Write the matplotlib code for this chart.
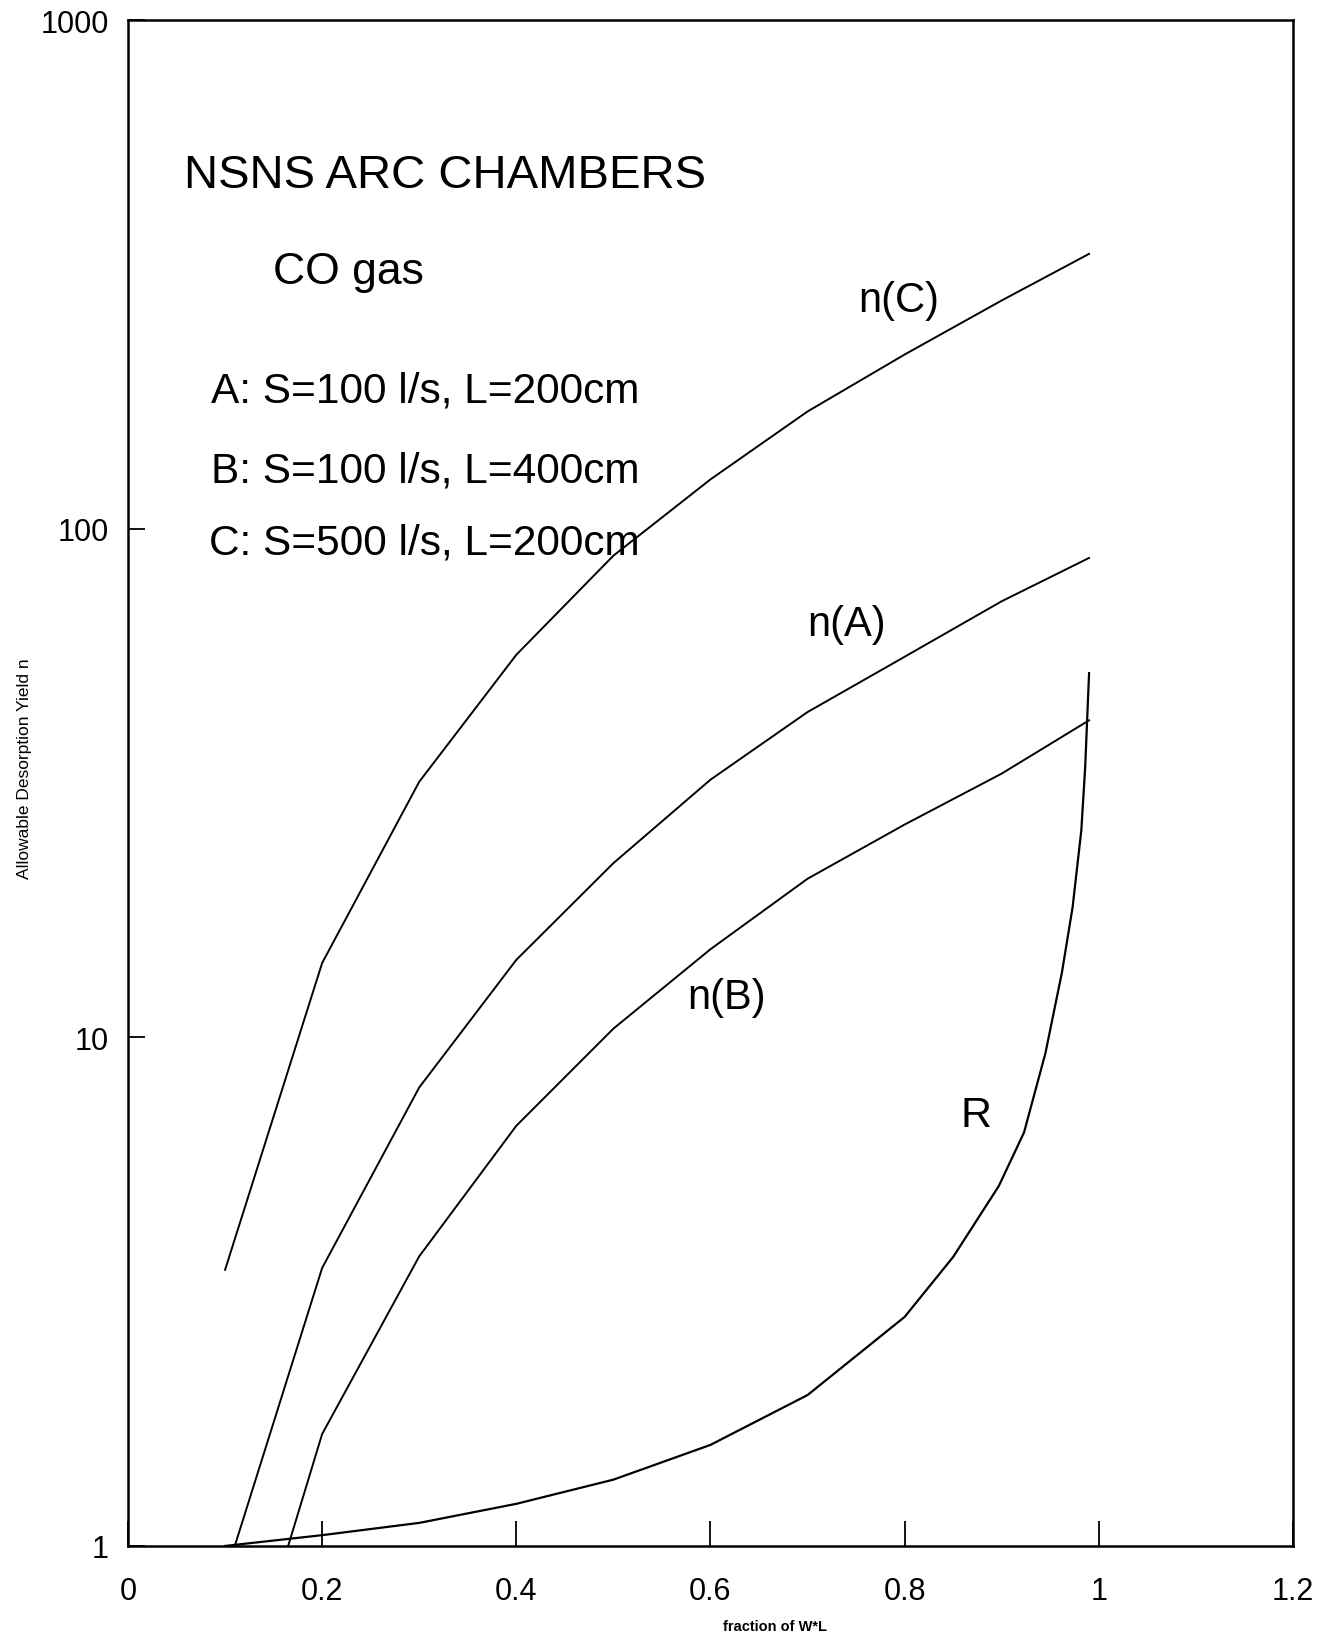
import numpy as np
import matplotlib.pyplot as plt

plt.rcParams['font.family'] = ['Liberation Sans', 'DejaVu Sans']

# curve data
x_c = [0.1, 0.2, 0.3, 0.4, 0.5, 0.6, 0.7, 0.8, 0.9, 0.99]
n_c = [3.49, 14.0, 31.8, 56.5, 88.5, 125, 170, 220, 281, 347]

x_a = [0.11, 0.2, 0.3, 0.4, 0.5, 0.6, 0.7, 0.8, 0.9, 0.99]
n_a = [1.0, 3.52, 7.97, 14.2, 22.0, 32.1, 43.6, 56.0, 72.0, 87.6]

x_b = [0.165, 0.2, 0.3, 0.4, 0.5, 0.6, 0.7, 0.8, 0.9, 0.99]
n_b = [1.0, 1.66, 3.71, 6.7, 10.4, 14.9, 20.5, 26.2, 33.0, 42.0]

x_r = [0.1, 0.2, 0.3, 0.4, 0.5, 0.6, 0.7, 0.8, 0.85, 0.897, 0.923,
       0.945, 0.962, 0.973, 0.982, 0.986, 0.99]
r_val = [1.0, 1.05, 1.11, 1.21, 1.35, 1.58, 1.98, 2.82, 3.7, 5.1, 6.5,
         9.3, 13.4, 18.0, 25.5, 34.0, 52.0]

fig = plt.figure(figsize=(13.25, 16.33), dpi=100)
ax = fig.add_axes([0.0966, 0.0527, 0.8792, 0.9344])

lw = 1.4
ax.plot(x_c, n_c, color='black', lw=lw)
ax.plot(x_a, n_a, color='black', lw=lw)
ax.plot(x_b, n_b, color='black', lw=lw)
ax.plot(x_r, r_val, color='black', lw=1.6)

ax.set_yscale('log')
ax.set_xlim(0, 1.2)
ax.set_ylim(1, 1000)

ax.set_xticks([0, 0.2, 0.4, 0.6, 0.8, 1.0, 1.2])
ax.set_xticklabels(['0', '0.2', '0.4', '0.6', '0.8', '1', '1.2'])
ax.set_yticks([1, 10, 100, 1000])
ax.set_yticklabels(['1', '10', '100', '1000'])
ax.minorticks_off()
ax.tick_params(axis='x', direction='in', length=18, width=1.3, pad=22, labelsize=22)
ax.tick_params(axis='y', direction='in', length=12, width=1.3, pad=14, labelsize=22)
for s in ax.spines.values():
    s.set_linewidth(1.8)

ax.set_xlabel('fraction of W*L', fontsize=10.5, fontweight='bold')
ax.xaxis.set_label_coords(0.555, -0.048)
ax.set_ylabel('Allowable Desorption Yield n', fontsize=12.5)
ax.yaxis.set_label_coords(-0.082, 0.51)

ax.text(0.058, 495, 'NSNS ARC CHAMBERS', fontsize=34, ha='left', va='center')
ax.text(0.149, 320, 'CO gas', fontsize=32, ha='left', va='center')
ax.text(0.086, 187, 'A: S=100 l/s, L=200cm', fontsize=30.5, ha='left', va='center')
ax.text(0.086, 130, 'B: S=100 l/s, L=400cm', fontsize=30.5, ha='left', va='center')
ax.text(0.083, 94, 'C: S=500 l/s, L=200cm', fontsize=30.5, ha='left', va='center')

ax.text(0.794, 282, 'n(C)', fontsize=30, ha='center', va='center')
ax.text(0.740, 65, 'n(A)', fontsize=30, ha='center', va='center')
ax.text(0.617, 12.0, 'n(B)', fontsize=30, ha='center', va='center')
ax.text(0.874, 7.05, 'R', fontsize=31, ha='center', va='center')

fig.savefig('out.png', dpi=100)
